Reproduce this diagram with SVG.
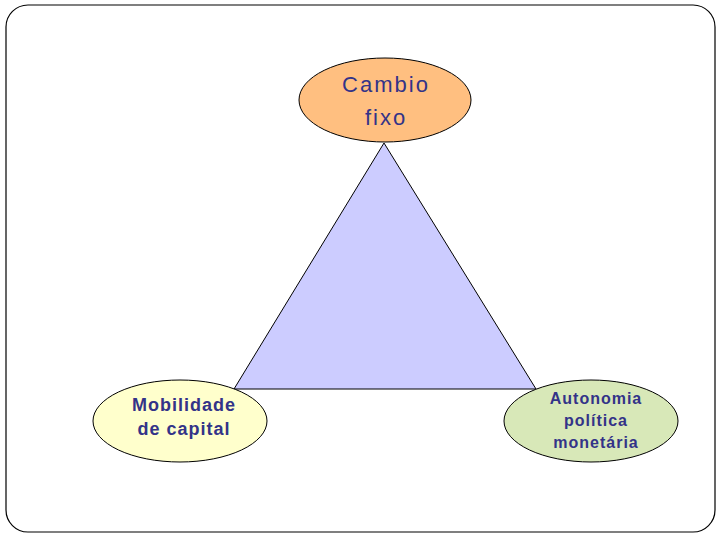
<svg xmlns="http://www.w3.org/2000/svg" width="720" height="540" viewBox="0 0 720 540">
<style>
.node{stroke:#000;stroke-width:1}
.t{font-family:"Liberation Sans",Arial,sans-serif;fill:#333388;text-anchor:middle}
.b{font-weight:bold;letter-spacing:1px}
</style>
<rect x="0" y="0" width="720" height="540" fill="#fff"/>
<rect x="6" y="5" width="709" height="527" rx="22" ry="22" fill="#fff" stroke="#000" stroke-width="1.2"/>
<g id="connectors">
<polygon points="384,143 234,389 536,389" fill="#CCCCFF" stroke="#000" stroke-width="1"/>
</g>
<g id="cambio">
<ellipse class="node" cx="385" cy="100" rx="86" ry="42" fill="#FFBF80"/>
<text class="t" x="386" y="92" font-size="22" letter-spacing="2">Cambio</text>
<text class="t" x="386" y="125" font-size="22" letter-spacing="2">fixo</text>
</g>
<g id="mobilidade">
<ellipse class="node" cx="180" cy="421" rx="87" ry="41" fill="#FFFFCC"/>
<text class="t b" x="184" y="411" font-size="18">Mobilidade</text>
<text class="t b" x="184" y="435" font-size="18">de capital</text>
</g>
<g id="autonomia">
<ellipse class="node" cx="591" cy="421" rx="87" ry="41" fill="#D8E8B8"/>
<text class="t b" x="596" y="404" font-size="16">Autonomia</text>
<text class="t b" x="596" y="426" font-size="16">política</text>
<text class="t b" x="596" y="448" font-size="16">monetária</text>
</g>
</svg>
